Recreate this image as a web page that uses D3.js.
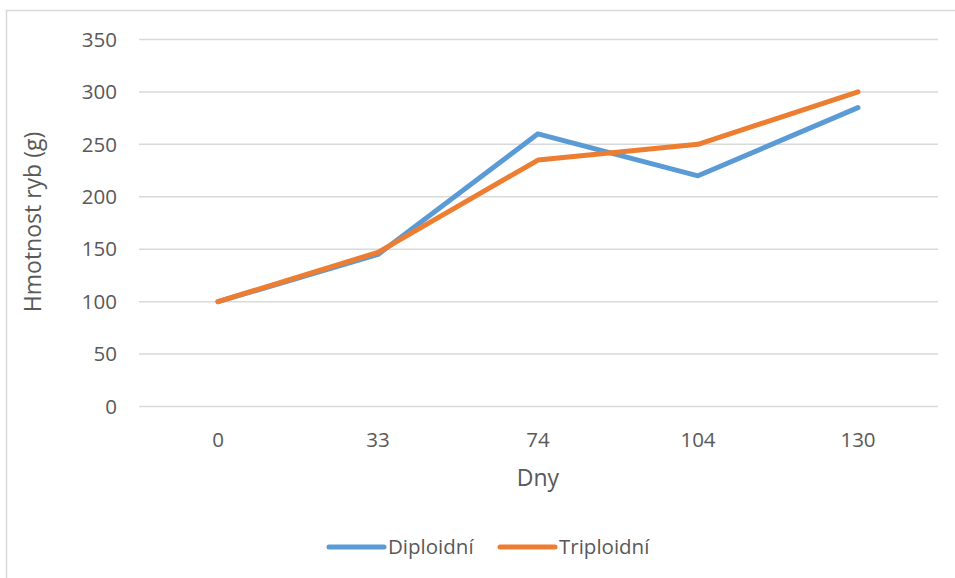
<!DOCTYPE html>
<html>
<head>
    <script src="https://cdnjs.cloudflare.com/ajax/libs/d3/7.8.5/d3.min.js"></script>
    <style>
        body { margin: 0; background: #fff; }
        text { font-family: "Open Sans", "Noto Sans", sans-serif; fill: #595959; }
        .grid line { stroke: #d9d9d9; stroke-width: 1.5px; }
    </style>
</head>
<body>
    <div id="chart"></div>
    <script>
        const width = 955, height = 578;

        const days = ["0", "33", "74", "104", "130"];
        const diploid = [100, 145, 260, 220, 285];
        const triploid = [100, 147, 235, 250, 300];
        const yTicks = [0, 50, 100, 150, 200, 250, 300, 350];

        const series = [
            { name: "Diploidní", values: diploid, color: "#5b9bd5" },
            { name: "Triploidní", values: triploid, color: "#ed7d31" }
        ];

        const svg = d3.select("#chart").append("svg")
            .attr("width", width).attr("height", height);

        // outer chart border (runs off the right and bottom edges)
        svg.append("rect")
            .attr("x", 6.5).attr("y", 10.5)
            .attr("width", 1000).attr("height", 1000)
            .attr("fill", "none").attr("stroke", "#d9d9d9").attr("stroke-width", 1.5);

        const x = d3.scalePoint().domain(days).range([218, 858]);
        const y = d3.scaleLinear().domain([0, 350]).range([406.5, 39.5]);

        // gridlines
        svg.append("g").attr("class", "grid")
            .selectAll("line").data(yTicks).enter().append("line")
            .attr("x1", 139).attr("x2", 938)
            .attr("y1", d => y(d)).attr("y2", d => y(d));

        // y tick labels
        svg.append("g").selectAll("text").data(yTicks).enter().append("text")
            .attr("x", 117).attr("y", d => y(d))
            .attr("text-anchor", "end").attr("dy", "0.35em")
            .style("font-size", "20.5px")
            .text(d => d);

        // x tick labels
        svg.append("g").selectAll("text").data(days).enter().append("text")
            .attr("x", d => x(d)).attr("y", 440)
            .attr("text-anchor", "middle").attr("dy", "0.35em")
            .style("font-size", "20.5px")
            .text(d => d);

        // axis titles
        svg.append("text")
            .attr("x", 538).attr("y", 478)
            .attr("text-anchor", "middle").attr("dy", "0.35em")
            .style("font-size", "23px")
            .text("Dny");

        svg.append("text")
            .attr("transform", "translate(33,222) rotate(-90)")
            .attr("text-anchor", "middle").attr("dy", "0.35em")
            .style("font-size", "23px")
            .text("Hmotnost ryb (g)");

        const line = d3.line()
            .x((d, i) => x(days[i]))
            .y(d => y(d));

        svg.append("g").selectAll("path").data(series).enter().append("path")
            .attr("d", d => line(d.values))
            .attr("fill", "none")
            .attr("stroke", d => d.color)
            .attr("stroke-width", 5)
            .attr("stroke-linecap", "round")
            .attr("stroke-linejoin", "round");

        // legend
        const legendX = [329, 500];
        const legend = svg.append("g").selectAll("g").data(series).enter().append("g")
            .attr("transform", (d, i) => `translate(${legendX[i]},547)`);
        legend.append("line")
            .attr("x1", 0).attr("x2", 55)
            .attr("stroke", d => d.color)
            .attr("stroke-width", 5)
            .attr("stroke-linecap", "round");
        legend.append("text")
            .attr("x", 59).attr("dy", "0.35em")
            .style("font-size", "20.5px")
            .text(d => d.name);
    </script>
</body>
</html>
